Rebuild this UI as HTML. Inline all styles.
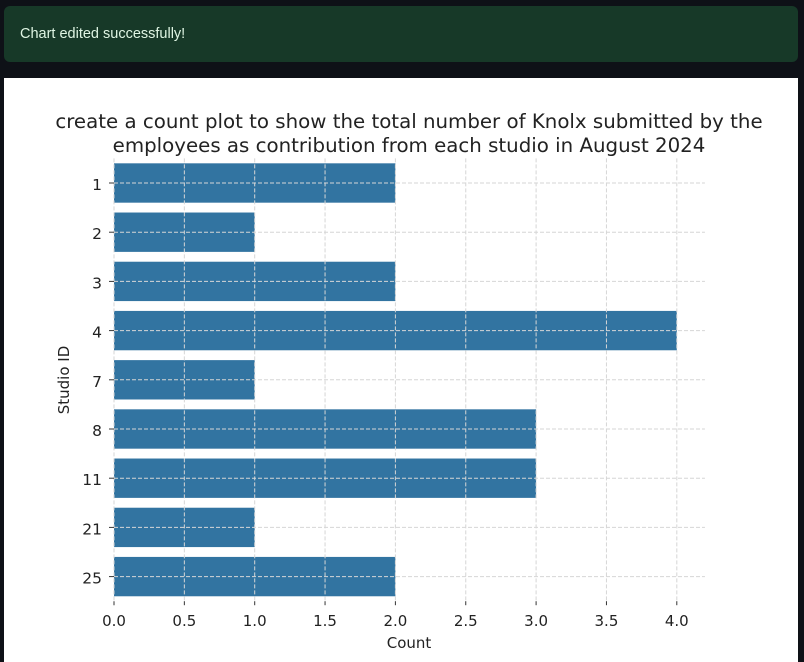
<!DOCTYPE html>
<html><head><meta charset="utf-8"><style>
body{margin:0;width:804px;height:662px;background:#0e1117;overflow:hidden;font-family:"DejaVu Sans","Liberation Sans",sans-serif;}
#banner{position:absolute;left:4px;top:6px;width:794px;height:56px;background:#173928;border-radius:6px;color:#dff5e3;font-family:"Liberation Sans",sans-serif;font-size:14.5px;line-height:56px;text-indent:16px;}
#panel{position:absolute;left:4px;top:78px;width:794px;height:584px;background:#fff;}
svg{position:absolute;left:0;top:0;}
</style></head><body>
<div id="banner">Chart edited successfully!</div>
<div id="panel"></div>
<svg width="804" height="662" id="chart"></svg>
<script>
const categories=["1","2","3","4","7","8","11","21","25"];
const counts=[2,1,2,4,1,3,3,1,2];
const xTicks=[0,0.5,1,1.5,2,2.5,3,3.5,4];
const xTickLabels=["0.0","0.5","1.0","1.5","2.0","2.5","3.0","3.5","4.0"];
const x0=114,unit=140.7,xMax=4.2,yTop=158.4,step=49.2;
const X=v=>x0+v*unit;
const Y=i=>yTop+step*(i+0.5);
const yBottom=yTop+step*categories.length;
const svg=document.getElementById('chart');
const NS='http://www.w3.org/2000/svg';
function mk(t,a){const e=document.createElementNS(NS,t);for(const k in a)e.setAttribute(k,a[k]);svg.appendChild(e);return e;}
counts.forEach((c,i)=>{
 const r=mk('rect',{x:X(0),y:Y(i)-step*0.4,width:X(c)-X(0),height:step*0.8,fill:'#3274a1'});
 
 
});
xTicks.forEach((v,i)=>{
 const g=mk('line',{x1:X(v),x2:X(v),y1:yTop,y2:yBottom,stroke:'#d6d6d6','stroke-width':1,'stroke-dasharray':'4,2'});
 
 
 mk('line',{x1:X(v),x2:X(v),y1:yBottom,y2:yBottom+4,stroke:'#333','stroke-width':1});
 const t=mk('text',{x:X(v),y:yBottom+25,'text-anchor':'middle','font-size':15,fill:'#222'});
 t.textContent=xTickLabels[i];
 
 
});
categories.forEach((c,i)=>{
 const g=mk('line',{x1:X(0),x2:X(xMax),y1:Y(i),y2:Y(i),stroke:'#d6d6d6','stroke-width':1,'stroke-dasharray':'4,2'});
 
 
 mk('line',{x1:X(0)-5,x2:X(0),y1:Y(i),y2:Y(i),stroke:'#333','stroke-width':1});
 const t=mk('text',{x:X(0)-12,y:Y(i)+7,'text-anchor':'end','font-size':15.5,fill:'#222'});
 t.textContent=c;
 
 
});
const xt=mk('text',{x:409,y:648,'text-anchor':'middle','font-size':15,fill:'#222'});xt.textContent='Count';


const yt=mk('text',{x:0,y:0,'text-anchor':'middle','font-size':15,fill:'#222',transform:'translate(69,380) rotate(-90)'});yt.textContent='Studio ID';


const t1=mk('text',{x:409,y:128,'text-anchor':'middle','font-size':19.8,fill:'#222'});t1.textContent='create a count plot to show the total number of Knolx submitted by the';


const t2=mk('text',{x:409,y:152,'text-anchor':'middle','font-size':19.8,fill:'#222'});t2.textContent='employees as contribution from each studio in August 2024';


</script>
</body></html>
